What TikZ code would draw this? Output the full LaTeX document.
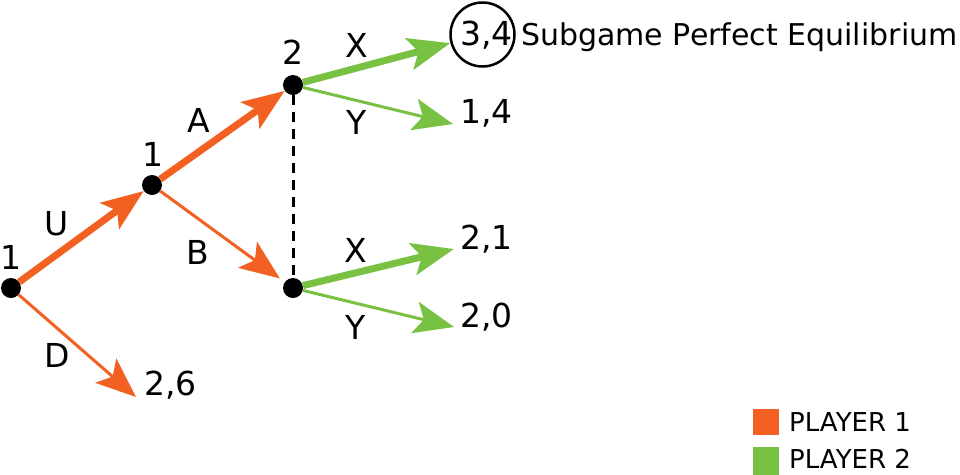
\documentclass[tikz,border=0pt]{standalone}
\usepackage{fontspec}
\setmainfont{DejaVu Sans}
\usetikzlibrary{arrows.meta}
\definecolor{pone}{HTML}{F26122}
\definecolor{ptwo}{HTML}{79C143}
\tikzset{
  dot/.style={circle,fill=black,minimum size=20pt,inner sep=0pt},
  lbl/.style={font=\fontsize{33}{40}\selectfont,inner sep=0pt},
  pay/.style={font=\fontsize{33}{40}\selectfont,inner sep=0pt,anchor=base west},
  choice/.style={line width=7pt,-{Stealth[length=42pt,width=32pt,inset=9pt]}},
  other/.style={line width=3pt,-{Stealth[length=40pt,width=32pt,inset=9pt]}},
  key/.style={minimum size=26pt,inner sep=0pt},
  keytxt/.style={font=\fontsize{26}{30}\selectfont,inner sep=0pt,anchor=west}
}
\begin{document}
\begin{tikzpicture}[x=1pt,y=-1pt]
\useasboundingbox[fill=white] (0,0) rectangle (960,474);

% decision nodes
\node[dot] (r) at (11,288) {};
\node[dot] (m) at (152,185) {};
\node[dot] (t) at (293,85) {};
\node[dot] (b) at (293,288) {};

\node[lbl] (rl) at (11,257) {1};
\node[lbl] (ml) at (153,154) {1};
\node[lbl] (tl) at (293,52) {2};

% payoffs
\node[pay] (p26) at (144,395) {2,6};
\node[pay] (p34) at (460,45) {3,4};
\node[draw,circle,line width=2.5pt,minimum size=64pt,inner sep=0pt] (eq) at (482.5,34.5) {};
\node[font=\fontsize{30}{36}\selectfont,inner sep=0pt,anchor=base west] (spe) at (521,45) {Subgame Perfect Equilibrium};
\node[pay] (p14) at (460,123) {1,4};
\node[pay] (p21) at (460,249) {2,1};
\node[pay] (p20) at (460,327) {2,0};

% information set
\draw[line width=3pt,dash pattern=on 10pt off 7pt] (t) -- (b);

% player 1 moves
\draw[pone,choice] (r) -- (m);
\draw[pone,other] (r) -- ([xshift=-8pt,yshift=-2pt]p26.base west);
\draw[pone,choice] (m) -- (t);
\draw[pone,other,shorten >=6pt] (m) -- (b);

% player 2 moves
\draw[ptwo,choice] (t) -- (eq);
\draw[ptwo,other] (t) -- ([xshift=-7pt,yshift=-1pt]p14.base west);
\draw[ptwo,choice] (b) -- ([xshift=-6pt]p21.base west);
\draw[ptwo,other] (b) -- ([xshift=-6pt]p20.base west);

\node[lbl] (lu) at (57,224) {U};
\node[lbl] (ld) at (57,355) {D};
\node[lbl] (la) at (199,120) {A};
\node[lbl] (lb) at (198,252) {B};
\node[lbl] (lx1) at (357,45) {X};
\node[lbl] (ly1) at (357,122) {Y};
\node[lbl] (lx2) at (356,250) {X};
\node[lbl] (ly2) at (356,327) {Y};

% legend
\node[key,fill=pone] (k1) at (766,422) {};
\node[key,fill=ptwo,minimum height=28pt] (k2) at (766,461) {};
\node[keytxt] (t1) at (789,422) {PLAYER 1};
\node[keytxt] (t2) at (789,459) {PLAYER 2};
\end{tikzpicture}
\end{document}
